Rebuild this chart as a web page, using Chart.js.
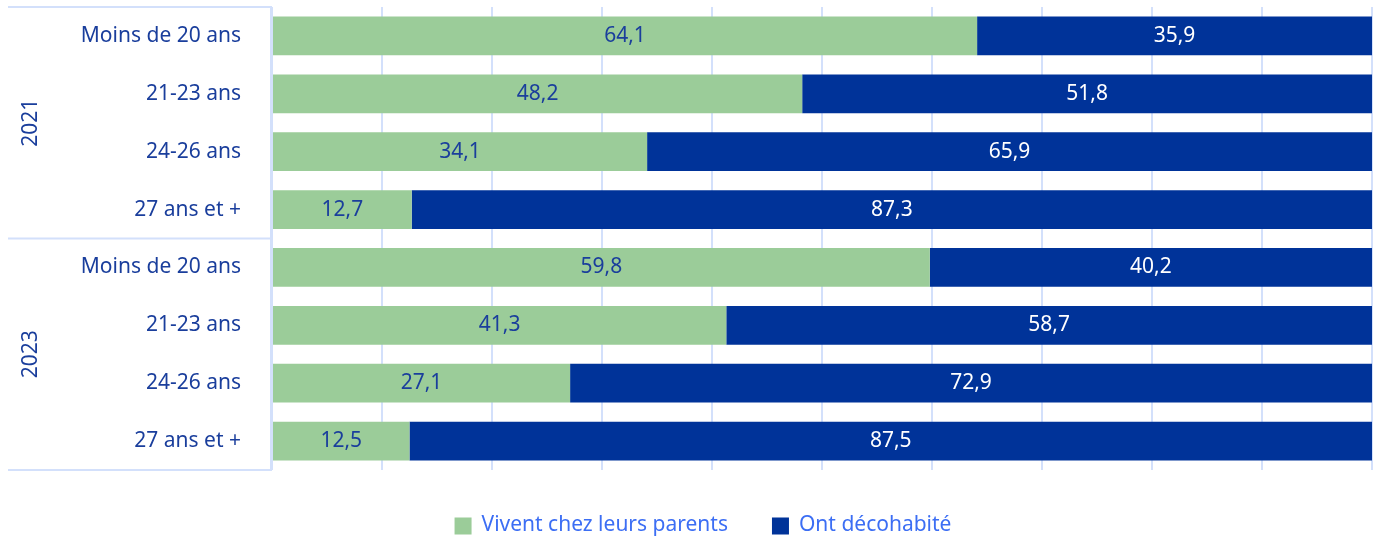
<!DOCTYPE html>
<html>
<head>
<meta charset="utf-8">
<script src="https://cdn.jsdelivr.net/npm/chart.js@4"></script>
<style>
  html, body { margin: 0; padding: 0; background: #fff; }
  #wrap { width: 1378px; height: 539px; }
</style>
</head>
<body>
<div id="wrap"><canvas id="myChart"></canvas></div>
<script>
var ageLabels = ['Moins de 20 ans', '21-23 ans', '24-26 ans', '27 ans et +'];
var years = ['2021', '2023'];
var parents2021 = [64.1, 48.2, 34.1, 12.7];
var decoh2021 = [35.9, 51.8, 65.9, 87.3];
var parents2023 = [59.8, 41.3, 27.1, 12.5];
var decoh2023 = [40.2, 58.7, 72.9, 87.5];

var green = '#9bcc99';
var navy = '#003399';
var lineBlue = '#d3e0fb';
var textBlue = '#1a3e9c';
var legendBlue = '#3c6ef4';
var fontName = 'Noto Sans';
var fontSize = 21;

var labels = ageLabels.concat(ageLabels);
var parents = parents2021.concat(parents2023);
var decoh = decoh2021.concat(decoh2023);

// value labels in the middle of each segment
var valueLabels = {
  id: 'valueLabels',
  afterDatasetsDraw: function (chart) {
    var ctx = chart.ctx;
    ctx.save();
    ctx.font = fontSize + 'px "' + fontName + '"';
    ctx.textAlign = 'center';
    ctx.textBaseline = 'middle';
    chart.data.datasets.forEach(function (ds, i) {
      var meta = chart.getDatasetMeta(i);
      meta.data.forEach(function (bar, j) {
        var x = (bar.x + bar.base) / 2;
        ctx.fillStyle = i === 0 ? textBlue : '#ffffff';
        ctx.fillText(ds.data[j].toFixed(1).replace('.', ','), x, bar.y);
      });
    });
    ctx.restore();
  }
};

// group boxes, year labels and the legend
var groupBox = {
  id: 'groupBox',
  afterDraw: function (chart) {
    var ctx = chart.ctx;
    var area = chart.chartArea;
    var left = 8;
    var n = ageLabels.length;
    var rowH = (area.bottom - area.top) / labels.length;
    ctx.save();
    ctx.strokeStyle = lineBlue;
    ctx.lineWidth = 2;
    ctx.beginPath();
    for (var g = 0; g <= years.length; g++) {
      var y = area.top + g * n * rowH;
      ctx.moveTo(left, y);
      ctx.lineTo(area.left, y);
    }
    ctx.moveTo(area.left - 1, area.top);
    ctx.lineTo(area.left - 1, area.bottom);
    ctx.stroke();
    ctx.fillStyle = textBlue;
    ctx.font = fontSize + 'px "' + fontName + '"';
    ctx.textAlign = 'center';
    ctx.textBaseline = 'middle';
    years.forEach(function (yr, g) {
      var cy = area.top + (g + 0.5) * n * rowH;
      ctx.save();
      ctx.translate(31, cy);
      ctx.rotate(-Math.PI / 2);
      ctx.fillText(yr, 0, 0);
      ctx.restore();
    });

    // legend, centred a bit right of the canvas middle like the original
    var box = 17, gapText = 10, gapItem = 44;
    var ds = chart.data.datasets;
    ctx.textAlign = 'left';
    var total = 0;
    ds.forEach(function (d, i) {
      total += box + gapText + ctx.measureText(d.label).width;
      if (i < ds.length - 1) total += gapItem;
    });
    var x = 703 - total / 2;
    var ly = 525;
    ds.forEach(function (d) {
      ctx.fillStyle = d.backgroundColor;
      ctx.fillRect(x, ly - box / 2 + 1, box, box);
      x += box + gapText;
      ctx.fillStyle = legendBlue;
      ctx.fillText(d.label, x, ly);
      x += ctx.measureText(d.label).width + gapItem;
    });
    ctx.restore();
  }
};

var ctx = document.getElementById('myChart').getContext('2d');
var myChart = new Chart(ctx, {
  type: 'bar',
  data: {
    labels: labels,
    datasets: [{
      label: 'Vivent chez leurs parents',
      data: parents,
      backgroundColor: green
    }, {
      label: 'Ont décohabité',
      data: decoh,
      backgroundColor: navy
    }]
  },
  options: {
    indexAxis: 'y',
    responsive: true,
    maintainAspectRatio: false,
    animation: false,
    layout: { padding: { left: 8, top: 7, right: 6, bottom: 69 } },
    categoryPercentage: 0.67,
    barPercentage: 1,
    scales: {
      x: {
        stacked: true,
        min: 0,
        max: 100,
        ticks: { display: false, stepSize: 10 },
        grid: { color: lineBlue, lineWidth: 2, drawTicks: false },
        border: { display: false }
      },
      y: {
        stacked: true,
        afterFit: function (scale) {
          scale.width = 264;
          scale.paddingTop = 0;
          scale.paddingBottom = 0;
        },
        ticks: { color: textBlue, font: { family: fontName, size: fontSize }, padding: 31, autoSkip: false },
        grid: { display: false, drawTicks: false },
        border: { display: false }
      }
    },
    plugins: {
      legend: { display: false },
      tooltip: { enabled: false }
    }
  },
  plugins: [valueLabels, groupBox]
});
</script>
</body>
</html>
